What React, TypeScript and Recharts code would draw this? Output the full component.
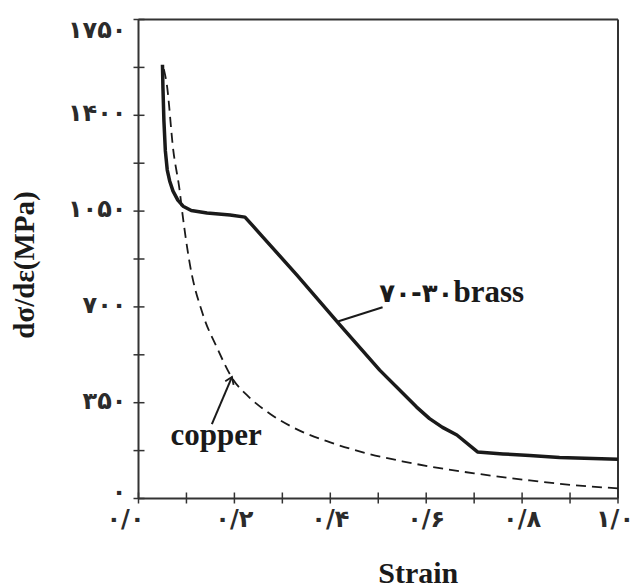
import { LineChart, Line, XAxis, YAxis, ReferenceLine, ReferenceDot } from 'recharts'

// 70-30 brass, strain vs work-hardening rate (MPa)
const brassStrain = [0.050, 0.051, 0.053, 0.056, 0.060, 0.065, 0.072, 0.082, 0.093, 0.110, 0.143, 0.191, 0.222, 0.240, 0.259, 0.330, 0.420, 0.503, 0.580, 0.607, 0.634, 0.664, 0.707, 0.760, 0.816, 0.878, 1.0]
const brassRate = [1585, 1500, 1380, 1270, 1200, 1160, 1123, 1090, 1068, 1052, 1043, 1036, 1028, 993, 956, 817, 634, 469, 334, 292, 260, 232, 170, 163, 157, 150, 143]

// copper (dashed)
const copperStrain = [0.053, 0.059, 0.0725, 0.086, 0.091, 0.107, 0.134, 0.164, 0.195, 0.232, 0.274, 0.336, 0.400, 0.476, 0.550, 0.614, 0.700, 0.816, 0.900, 1.0]
const copperRate = [1568, 1513, 1273, 1123, 1050, 857, 674, 550, 441, 368, 310, 248, 205, 165, 136, 115, 92, 66, 50, 37]

const yTicks = [0, 175, 350, 525, 700, 875, 1050, 1225, 1400, 1575, 1750]
const yMajor = [0, 350, 700, 1050, 1400, 1750]
const yLabels = ['۰', '۳۵۰', '۷۰۰', '۱۰۵۰', '۱۴۰۰', '۱۷۵۰']

const xTicks = [0, 0.1, 0.2, 0.3, 0.4, 0.5, 0.6, 0.7, 0.8, 0.9, 1.0]
const xMajor = [0, 0.2, 0.4, 0.6, 0.8, 1.0]
const xLabels = ['۰/۰', '۰/۲', '۰/۴', '۰/۶', '۰/۸', '۱/۰']

const brassData = brassStrain.map((s, i) => ({ strain: s, rate: brassRate[i] }))
const copperData = copperStrain.map((s, i) => ({ strain: s, rate: copperRate[i] }))

const INK = '#1a1a1a'
const AXIS = '#333'
const SERIF = '"Liberation Serif", "Times New Roman", serif'
const DIGITS = '"DejaVu Sans", sans-serif'

// eslint-disable-next-line @typescript-eslint/no-explicit-any
function YTick({ x, y, payload }: any) {
  const idx = yMajor.indexOf(payload.value)
  let dy = -2
  if (payload.value === 0) dy = -7
  if (payload.value === 1750) dy = 10
  return (
    <g>
      <line x1={x - 5} x2={x + 6} y1={y} y2={y} stroke={AXIS} strokeWidth={1.5} />
      {idx >= 0 && (
        <text x={x - 12} y={y + dy} textAnchor="end" dominantBaseline="central"
          fontFamily={DIGITS} fontWeight="bold" fontSize={24} letterSpacing={1} fill="#2b2b2b">
          {yLabels[idx]}
        </text>
      )}
    </g>
  )
}

// eslint-disable-next-line @typescript-eslint/no-explicit-any
function XTick({ x, y, payload }: any) {
  const idx = xMajor.findIndex(v => Math.abs(v - payload.value) < 1e-6)
  let dx = 0
  if (idx === 0) dx = -13
  if (idx === xMajor.length - 1) dx = -3
  return (
    <g>
      <line x1={x} x2={x} y1={y - 6} y2={y + 5} stroke={AXIS} strokeWidth={1.5} />
      {idx >= 0 && (
        <text x={x + dx} y={y + 20} textAnchor="middle" dominantBaseline="central"
          fontFamily={DIGITS} fontWeight="bold" fontSize={24} letterSpacing={1} fill="#2b2b2b">
          {xLabels[idx]}
        </text>
      )}
    </g>
  )
}

// pointer line with a small head on the curve end (x1,y1)
// eslint-disable-next-line @typescript-eslint/no-explicit-any
function Pointer({ x1, y1, x2, y2, head }: any) {
  const a = Math.atan2(y2 - y1, x2 - x1)
  const h = 8
  return (
    <g>
      <line x1={x1} y1={y1} x2={x2} y2={y2} stroke={INK} strokeWidth={2} />
      {head && (
        <path
          d={`M${x1 + h * Math.cos(a - 0.6)},${y1 + h * Math.sin(a - 0.6)} L${x1},${y1} L${x1 + h * Math.cos(a + 0.6)},${y1 + h * Math.sin(a + 0.6)}`}
          fill="none" stroke={INK} strokeWidth={1.8} />
      )}
    </g>
  )
}

export default function App() {
  return (
    <div style={{ position: 'absolute', left: 0, top: 0, background: '#fff' }}>
      <LineChart width={635} height={587} margin={{ top: 19.5, right: 17, bottom: 0, left: 0 }}>
        <XAxis
          dataKey="strain"
          type="number"
          domain={[0, 1]}
          ticks={xTicks}
          tick={<XTick />}
          tickLine={false}
          tickSize={0}
          tickMargin={0}
          interval={0}
          height={88.5}
          axisLine={{ stroke: AXIS, strokeWidth: 2 }}
          allowDuplicatedCategory={false}
          label={{
            // eslint-disable-next-line @typescript-eslint/no-explicit-any
            content: ({ viewBox }: any) => (
              <text x={viewBox.x + viewBox.width / 2 + 40} y={viewBox.y + 84} textAnchor="middle"
                fontFamily={SERIF} fontWeight="bold" fontSize={30} fill={INK}>Strain</text>
            ),
          }}
        />
        <YAxis
          type="number"
          domain={[0, 1750]}
          ticks={yTicks}
          tick={<YTick />}
          tickLine={false}
          tickSize={0}
          tickMargin={0}
          interval={0}
          width={138.5}
          axisLine={{ stroke: AXIS, strokeWidth: 2 }}
          label={{
            // eslint-disable-next-line @typescript-eslint/no-explicit-any
            content: ({ viewBox }: any) => {
              const cx = 24
              const cy = viewBox.y + viewBox.height / 2 + 6
              return (
                <text x={cx} y={cy} transform={`rotate(-90 ${cx} ${cy})`} textAnchor="middle" dominantBaseline="central"
                  fontFamily={SERIF} fontWeight="bold" fontSize={29} fill={INK}>dσ/dε(MPa)</text>
              )
            },
          }}
        />
        <ReferenceLine y={1750} stroke={AXIS} strokeWidth={2} />
        <ReferenceLine x={1} stroke={AXIS} strokeWidth={2} />

        <Line data={copperData} dataKey="rate" type="monotone" stroke={INK} strokeWidth={1.8}
          strokeDasharray="10 6" dot={false} activeDot={false} isAnimationActive={false} />
        <Line data={brassData} dataKey="rate" type="linear" stroke={INK} strokeWidth={3.5}
          strokeLinejoin="round" dot={false} activeDot={false} isAnimationActive={false} />

        <ReferenceLine segment={[{ x: 0.414, y: 646 }, { x: 0.509, y: 699 }]}
          shape={(p: any) => <Pointer {...p} head={false} />} />
        <ReferenceLine segment={[{ x: 0.195, y: 444 }, { x: 0.153, y: 272 }]}
          shape={(p: any) => <Pointer {...p} head={true} />} />

        <ReferenceDot x={0.503} y={715} r={0.5} fillOpacity={0} strokeOpacity={0}
          label={{
            // eslint-disable-next-line @typescript-eslint/no-explicit-any
            content: ({ viewBox }: any) => (
              <text x={viewBox.x} y={viewBox.y} fill={INK} fontWeight="bold">
                <tspan fontFamily={DIGITS} fontSize={26} letterSpacing={3}>۷۰-۳۰</tspan>
                <tspan fontFamily={SERIF} fontSize={31}>brass</tspan>
              </text>
            ),
          }}
        />
        <ReferenceDot x={0.068} y={193} r={0.5} fillOpacity={0} strokeOpacity={0}
          label={{
            // eslint-disable-next-line @typescript-eslint/no-explicit-any
            content: ({ viewBox }: any) => (
              <text x={viewBox.x} y={viewBox.y} fill={INK} fontWeight="bold"
                fontFamily={SERIF} fontSize={31}>copper</text>
            ),
          }}
        />
      </LineChart>
    </div>
  )
}
